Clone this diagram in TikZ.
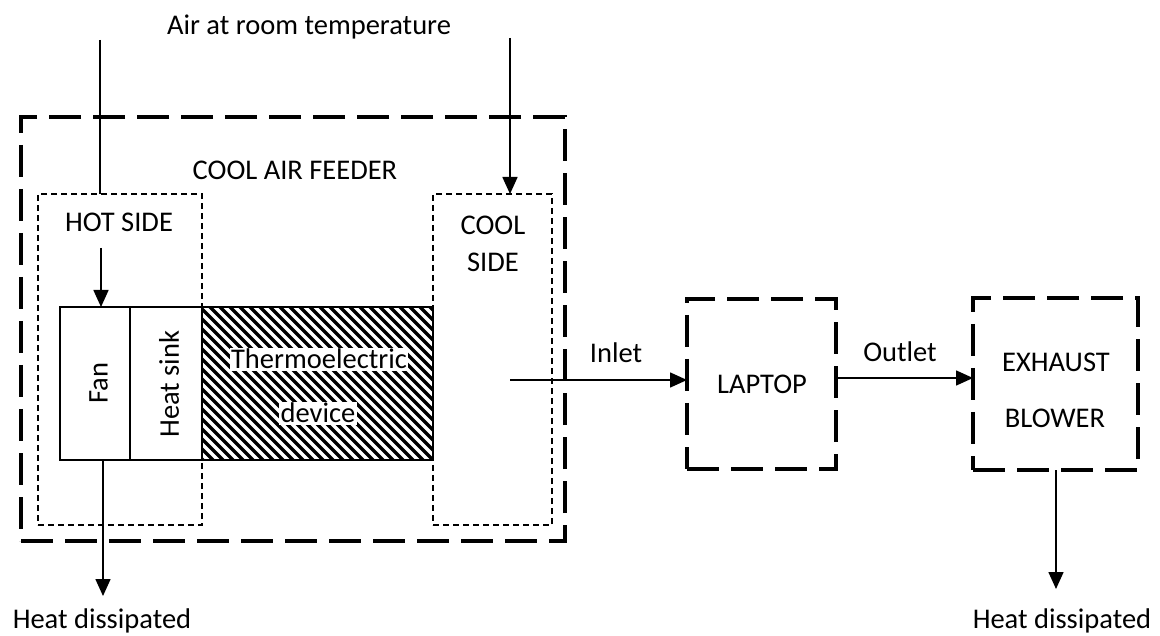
\documentclass[tikz,border=0pt]{standalone}
\usepackage{fontspec}
\setmainfont{Carlito}
\usetikzlibrary{arrows.meta}
\begin{document}
\begin{tikzpicture}[x=1pt,y=-1pt,
  every node/.style={font=\fontsize{28.5}{34}\selectfont, inner sep=0pt, outer sep=0pt},
  bigdash/.style={draw, line width=4.5pt, dash pattern=on 32pt off 12pt},
  smalldash/.style={draw, line width=1.8pt, dash pattern=on 6pt off 4pt},
  part/.style={draw, line width=1.6pt},
  flow/.style={line width=1.6pt, -{Triangle[length=17pt,width=15pt]}},
  plain/.style={line width=1.6pt},
  lbl/.style={anchor=base},
  halo/.style={fill=white, inner sep=1.5pt}]
\useasboundingbox (0,0) rectangle (1160,636);

% containers
\node[bigdash, minimum width=544pt, minimum height=424pt] (feeder) at (293,329) {};
\node[smalldash, minimum width=164pt, minimum height=331pt] (hot) at (120,359.5) {};
\node[smalldash, minimum width=119pt, minimum height=331pt] (cool) at (492.5,359.5) {};
\node[bigdash, minimum width=149pt, minimum height=170pt] (laptop) at (761.5,384) {};
\node[bigdash, minimum width=165pt, minimum height=172pt] (exhaust) at (1055.5,384) {};

% fan and heat sink
\node[part, minimum width=70pt, minimum height=153pt] (fan) at (95,383.5) {};
\node[part, minimum width=72pt, minimum height=153pt] (sink) at (166,383.5) {};

% thermoelectric hatching
\coordinate (teA) at (202,307);
\coordinate (teB) at (433,460);
\begin{scope}
  \clip (teA) rectangle (teB);
  \foreach \i in {0,...,42} \draw[line width=3.4pt] ({40+\i*10},297) -- ++(175,175);
\end{scope}
\node[part, minimum width=231pt, minimum height=153pt] (te) at (317.5,383.5) {};

% texts
\node[lbl] (air) at (309,35) {Air at room temperature};
\node[lbl] (feedtxt) at (295,180) {COOL AIR FEEDER};
\node[lbl] (hottxt) at (119,232) {HOT SIDE};
\node[lbl] (cooltxt) at (493,235) {COOL};
\node[lbl] (sidetxt) at (493,272) {SIDE};
\node[rotate=90] (fantxt) at (98.5,383) {Fan};
\node[rotate=90] (sinktxt) at (169,384) {Heat sink};
\node[lbl, halo] (tetxt) at (319,369) {Thermoelectric};
\node[lbl, halo] (devtxt) at (318,423) {device};
\node[lbl] (inlet) at (616,363) {Inlet};
\node[lbl] (laptxt) at (762,394) {LAPTOP};
\node[lbl] (outlet) at (900,362) {Outlet};
\node[lbl] (exhtxt) at (1056,372) {EXHAUST};
\node[lbl] (blowtxt) at (1055,428) {BLOWER};
\node[lbl] (heatL) at (102,628) {Heat dissipated};
\node[lbl] (heatR) at (1062,628) {Heat dissipated};

% connectors
\coordinate (srcL) at (100,40);
\draw[plain] (srcL) -- (srcL |- hot.north);
\coordinate (fanIn) at (101,248);
\draw[flow] (fanIn) -- (fanIn |- fan.north);
\coordinate (srcR) at (510,38);
\draw[flow] (srcR) -- (srcR |- cool.north);
\coordinate (hdL) at (103,596);
\draw[flow] (hdL |- fan.south) -- (hdL);
\coordinate (inS) at (510,380);
\draw[flow] (inS) -- (inS -| laptop.west);
\coordinate (outS) at (836,378);
\draw[flow] (outS) -- (outS -| exhaust.west);
\coordinate (hdR) at (1056,589);
\draw[flow] (hdR |- exhaust.south) -- (hdR);
\end{tikzpicture}
\end{document}
